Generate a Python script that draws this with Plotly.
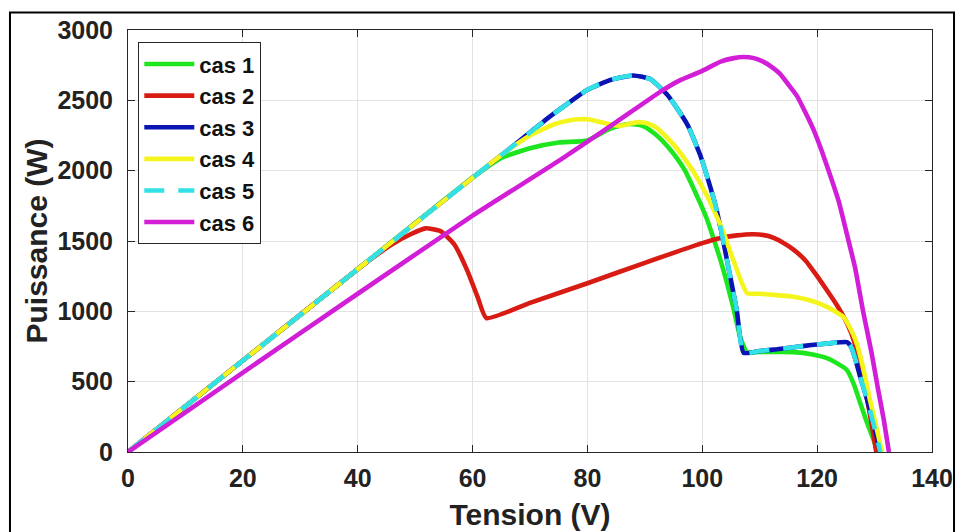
import plotly.graph_objects as go

# ---- Data ----
cas1_v = [0, 40, 60, 65, 70, 75, 80, 83.8, 86.7, 88.5, 89.6, 91, 92.5, 94, 95.5, 97, 98.4, 100.7,
          101.9, 103.2, 104.3, 105.5, 106.6, 107.8, 110, 113, 115.9, 119, 121.7, 123.5, 125.2,
          126.4, 127.5, 128.5, 129.6, 130.6]
cas1_p = [0, 1300, 1950, 2090, 2160, 2200, 2215, 2295, 2330, 2328, 2318, 2285, 2235, 2170, 2093,
          2000, 1880, 1667, 1525, 1360, 1200, 1010, 817, 710, 712, 711, 710, 695, 667, 630, 582,
          480, 348, 230, 110, 0]

cas2_v = [0, 20, 40, 45.7, 49.2, 51.8, 54.4, 56.8, 59.1, 60.9, 62.4, 70, 80, 90, 100, 103, 106,
          108.9, 111.5, 114, 116, 118, 120, 121.7, 123.5, 125.2, 126.5, 127.5, 128.5, 129.4, 130.3]
cas2_p = [0, 650, 1300, 1470, 1548, 1590, 1571, 1477, 1288, 1099, 952, 1060, 1200, 1345, 1485,
          1520, 1540, 1548, 1535, 1490, 1435, 1360, 1250, 1150, 1040, 916, 780, 604, 420, 220, 0]

cas3_v = [0, 20, 40, 60, 68.3, 73, 76, 80, 84, 88, 91, 93.9, 95.5, 97.5, 99.8, 102.1, 103.3,
          104.3, 106, 107.2, 110, 113, 115.9, 119, 122, 124, 125.2, 126, 126.8, 127.5, 128.5,
          129.5, 130.3, 131]
cas3_p = [0, 650, 1300, 1950, 2216, 2370, 2460, 2575, 2645, 2677, 2650, 2540, 2450, 2320, 2092,
          1784, 1571, 1364, 1009, 705, 718, 730, 745, 760, 772, 780, 781, 740, 640, 533, 400,
          250, 120, 0]

cas4_v = [0, 20, 40, 60, 66, 70, 74.2, 76.5, 78.5, 80, 82.6, 85.6, 87.5, 89, 90.5, 92, 94, 95.5,
          97, 98.4, 100.7, 102, 103.6, 105.4, 107.8, 110, 113, 115.9, 119, 121.7, 123.5, 124.6,
          126, 126.9, 128, 129.2, 130.3, 131.3]
cas4_p = [0, 650, 1300, 1950, 2140, 2250, 2330, 2355, 2365, 2365, 2342, 2318, 2335, 2345, 2335,
          2306, 2230, 2163, 2080, 1997, 1831, 1720, 1571, 1364, 1129, 1125, 1115, 1104, 1075,
          1032, 990, 960, 860, 772, 600, 370, 180, 0]

cas5_v = cas3_v
cas5_p = cas3_p

cas6_v = [0, 20, 40, 60, 75.4, 85, 92.8, 96, 99.8, 103.3, 105.5, 107.1, 109, 110.5, 112, 113.5,
          115, 116.5, 118, 119.5, 120.8, 122, 123.7, 125.2, 126.6, 128, 129.5, 130.5, 131.6, 132.5]
cas6_p = [0, 565, 1125, 1680, 2080, 2345, 2564, 2640, 2706, 2777, 2800, 2808, 2800, 2777, 2740,
          2690, 2612, 2530, 2410, 2280, 2140, 2000, 1790, 1545, 1311, 1000, 700, 470, 230, 0]

series_names = ["cas 1", "cas 2", "cas 3", "cas 4", "cas 5", "cas 6"]
series_colors = ["#1ee61e", "#d81c14", "#0a14b4", "#f5f51e", "#32e1e6", "#d21ed7"]
series_dash = ["solid", "solid", "solid", "solid", "20px,14px", "solid"]

x_ticks = [0, 20, 40, 60, 80, 100, 120, 140]
y_ticks = [0, 500, 1000, 1500, 2000, 2500, 3000]

series_v = [cas1_v, cas2_v, cas3_v, cas4_v, cas5_v, cas6_v]
series_p = [cas1_p, cas2_p, cas3_p, cas4_p, cas5_p, cas6_p]

FONT = "Liberation Sans, Arial, Helvetica, sans-serif"
TXT = "#222222"

fig = go.Figure()
for name, v, p, c, d in zip(series_names, series_v, series_p, series_colors, series_dash):
    fig.add_trace(go.Scatter(x=v, y=p, mode="lines", name=name,
                             line=dict(color=c, width=4.6, dash=d, shape="spline", smoothing=0.5)))

axis_common = dict(showline=True, linecolor="#262626", linewidth=1, mirror="ticks",
                   ticks="inside", ticklen=7, tickwidth=1, tickcolor="#262626",
                   showgrid=True, gridcolor="#e2e2e2", gridwidth=1, zeroline=False,
                   automargin=False,
                   tickfont=dict(family=FONT, size=25, color=TXT, weight="bold"))

fig.update_xaxes(range=[0, 140], tickvals=x_ticks, ticktext=[str(t) for t in x_ticks],
                 ticklabelstandoff=4,
                 title=dict(text="Tension (V)", font=dict(family=FONT, size=30, color=TXT, weight="bold"),
                            standoff=12),
                 **axis_common)
fig.update_yaxes(range=[0, 3000], tickvals=y_ticks, ticktext=[str(t) for t in y_ticks],
                 ticklabelstandoff=9,
                 title=dict(text="Puissance (W)", font=dict(family=FONT, size=30, color=TXT, weight="bold"),
                            standoff=0),
                 **axis_common)

fig.update_layout(
    width=962, height=532,
    margin=dict(l=128, r=30, t=29.5, b=80.4),
    paper_bgcolor="white", plot_bgcolor="white",
    font=dict(family=FONT, color=TXT),
    legend=dict(x=0.0128, y=0.971, xanchor="left", yanchor="top",
                bgcolor="white", bordercolor="#262626", borderwidth=1,
                font=dict(family=FONT, size=22, color="#111111", weight="bold"),
                itemwidth=50,
                traceorder="normal", tracegroupgap=0),
    shapes=[dict(type="rect", xref="paper", yref="paper",
                 x0=-0.1468, x1=1.0274, y0=-0.25, y1=1.0415,
                 line=dict(color="black", width=2), fillcolor="rgba(0,0,0,0)", layer="above")],
)

fig.write_html("out.html", config={"displayModeBar": False},
               post_script="document.body.style.margin='0px';")
